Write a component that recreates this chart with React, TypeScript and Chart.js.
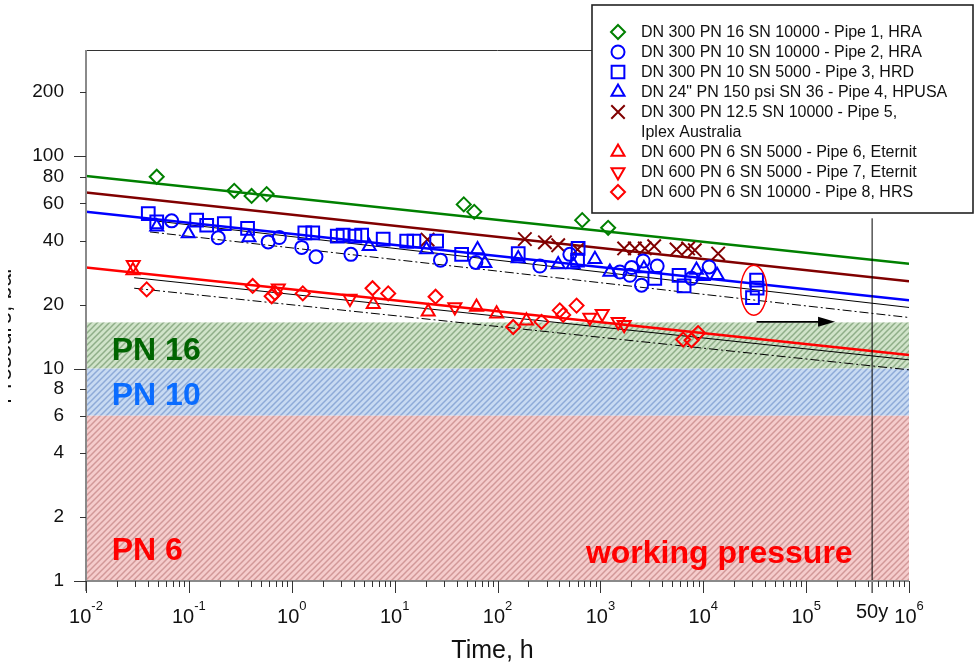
import React, { useEffect, useRef } from 'react';
import { Chart, registerables } from 'chart.js';

Chart.register(...registerables);

const FONT = '"Liberation Sans", Arial, Helvetica, sans-serif';

// ---------- measured data (time in h, pressure in bar) ----------
const pipe1Time = [0.0487, 0.276, 0.407, 0.57, 47, 59.4, 666, 1190];
const pipe1Pressure = [80, 68.7, 65, 66.3, 59.3, 54.7, 50, 46];

const pipe2Time = [0.068, 0.193, 0.59, 0.757, 1.25, 1.72, 3.76, 27.9, 61.6, 258, 505, 1549, 1937, 2010, 2512, 2604, 3565, 7690, 11400];
const pipe2Pressure = [49.6, 41.3, 39.5, 41.4, 37.2, 33.6, 34.5, 32.4, 31.6, 30.4, 34.5, 28.5, 27.5, 29.9, 24.7, 32.1, 30.4, 26.6, 30.1];

const pipe3Time = [0.0403, 0.0487, 0.119, 0.149, 0.221, 0.372, 1.34, 1.6, 2.77, 3.16, 4.11, 4.78, 7.74, 13.1, 15.4, 25.6, 44.8, 159, 608, 600, 3380, 5820, 6510, 33000, 33400, 30100];
const pipe3Pressure = [53.7, 49.1, 50.0, 47.3, 48.2, 45.7, 43.6, 43.6, 42.0, 42.5, 42.0, 42.5, 40.7, 39.8, 39.8, 39.8, 34.5, 34.8, 36.8, 32.4, 26.6, 27.5, 24.5, 26.1, 23.9, 21.6];

const pipe4Time = [0.0487, 0.0986, 0.384, 5.66, 20.4, 64, 75.3, 159, 389, 544, 885, 1237, 2650, 8590, 9980, 13650];
const pipe4Pressure = [46.5, 43.3, 41.4, 37.7, 36.4, 36.4, 31.3, 33.0, 30.9, 30.9, 32.7, 28.5, 29.6, 29.1, 27.2, 27.5];

const pipe5Time = [20.9, 184.5, 289, 389, 600, 1703, 2163, 2704, 3333, 5500, 7130, 8280, 13960];
const pipe5Pressure = [40.5, 40.7, 39.3, 38.1, 36.4, 36.8, 36.8, 36.8, 37.7, 36.4, 36.8, 36.1, 34.8];

const pipe6Time = [0.0286, 6.2, 21.2, 62.5, 98, 191];
const pipe6Pressure = [29.0, 20.1, 18.5, 19.5, 18.1, 16.8];

const pipe7Time = [0.0288, 0.74, 3.68, 38.5, 790, 1042, 1490, 1703];
const pipe7Pressure = [30.8, 23.9, 21.4, 19.5, 17.4, 18.1, 16.6, 16.1];

const pipe8Time = [0.0389, 0.417, 0.638, 0.687, 1.28, 6.1, 8.66, 25, 142, 268, 403, 435, 587, 6380, 7690, 8910];
const pipe8Pressure = [23.6, 24.5, 21.9, 22.7, 22.6, 23.9, 22.6, 21.8, 15.7, 16.6, 18.8, 17.9, 19.8, 13.7, 13.6, 14.7];

// regression lines (end points)
const fitTime = [0.01, 1e6];
const fitGreenPressure = [80.7, 31.2];
const fitDarkRedPressure = [67.5, 25.8];
const fitBluePressure = [54.7, 21.0];
const fitRedPressure = [29.9, 11.6];
const blueLowerTime = [0.05, 1e6];
const blueLowerPressure = [49.4, 19.4];
const blueLimitTime = [0.0419, 1e6];
const blueLimitPressure = [44.0, 17.4];
const redLowerTime = [0.0294, 1e6];
const redLowerPressure = [26.8, 11.0];
const redLimitTime = [0.0294, 1e6];
const redLimitPressure = [23.9, 9.87];

const legendLabels = [
  'DN 300 PN 16 SN 10000 - Pipe 1, HRA',
  'DN 300 PN 10 SN 10000 - Pipe 2, HRA',
  'DN 300 PN 10 SN 5000 - Pipe 3, HRD',
  'DN 24" PN 150 psi SN 36 - Pipe 4, HPUSA',
  'DN 300 PN 12.5 SN 10000 - Pipe 5,\nIplex Australia',
  'DN 600 PN 6 SN 5000 - Pipe 6, Eternit',
  'DN 600 PN 6 SN 5000 - Pipe 7, Eternit',
  'DN 600 PN 6 SN 10000 - Pipe 8, HRS',
];

// pressure zones
const zoneNames = ['PN 16', 'PN 10', 'PN 6'];
const zoneLow = [10, 6, 1];
const zoneHigh = [16.5, 10, 6];
const zoneTextColors = ['#006400', '#0a6cff', '#ff0000'];
const zoneBg = ['#d0e3c9', '#c8daf2', '#f5cccc'];
const zoneStripe = ['#8fae88', '#8eaad8', '#d29898'];
const zoneLabelPressure = [11.0, 6.73, 1.256];
const zoneLabelTime = 0.0178;
const workingText = 'working pressure';
const workingTime = 723;
const workingPressure = 1.215;

// axis ticks
const yTicks = [1, 2, 4, 6, 8, 10, 20, 40, 60, 80, 100, 200];
const xDecades = [-2, -1, 0, 1, 2, 3, 4, 5, 6];
const fiftyYearsH = 438000;
const fiftyYearsTop = 51;

// annotations
const ellipseTime = 31000;
const ellipsePressure = 23.4;
const arrowTime = [33000, 191000];
const arrowPressure = 16.6;

const pts = (t: number[], p: number[]) => t.map((v, i) => ({ x: v, y: p[i] }));

function drawMarker(ctx: CanvasRenderingContext2D, style: string, rot: number, x: number, y: number, r: number, color: string) {
  ctx.save();
  ctx.strokeStyle = color;
  ctx.lineWidth = 2;
  ctx.beginPath();
  if (style === 'circle') {
    ctx.arc(x, y, r, 0, Math.PI * 2);
  } else if (style === 'rect') {
    const s = r * Math.SQRT1_2;
    ctx.rect(x - s, y - s, 2 * s, 2 * s);
  } else if (style === 'rectRot') {
    ctx.moveTo(x, y - r); ctx.lineTo(x + r, y); ctx.lineTo(x, y + r); ctx.lineTo(x - r, y); ctx.closePath();
  } else if (style === 'triangle') {
    let a = (rot * Math.PI) / 180;
    ctx.moveTo(x + Math.sin(a) * r, y - Math.cos(a) * r);
    a += (2 * Math.PI) / 3;
    ctx.lineTo(x + Math.sin(a) * r, y - Math.cos(a) * r);
    a += (2 * Math.PI) / 3;
    ctx.lineTo(x + Math.sin(a) * r, y - Math.cos(a) * r);
    ctx.closePath();
  } else if (style === 'crossRot') {
    const d = r * Math.SQRT1_2;
    ctx.moveTo(x - d, y - d); ctx.lineTo(x + d, y + d);
    ctx.moveTo(x - d, y + d); ctx.lineTo(x + d, y - d);
  }
  ctx.stroke();
  ctx.restore();
}

export default function App() {
  const ref = useRef<HTMLCanvasElement>(null);

  useEffect(() => {
    const canvas = ref.current!;
    const ctx0 = canvas.getContext('2d')!;

    const hatch = (bg: string, st: string) => {
      const c = document.createElement('canvas');
      c.width = 6; c.height = 6;
      const g = c.getContext('2d')!;
      g.fillStyle = bg; g.fillRect(0, 0, 6, 6);
      g.strokeStyle = st; g.lineWidth = 1.5;
      g.beginPath();
      g.moveTo(0, 6); g.lineTo(6, 0);
      g.moveTo(-3, 3); g.lineTo(3, -3);
      g.moveTo(3, 9); g.lineTo(9, 3);
      g.stroke();
      return ctx0.createPattern(c, 'repeat')!;
    };
    const patterns = zoneBg.map((bg, i) => hatch(bg, zoneStripe[i]));

    const scatter = (i: number, t: number[], p: number[], style: string, color: string, radius: number, rotation = 0) => ({
      type: 'scatter' as const,
      label: legendLabels[i],
      legendText: legendLabels[i],
      data: pts(t, p),
      pointStyle: style,
      pointRadius: radius,
      pointHoverRadius: radius,
      pointRotation: rotation,
      borderColor: color,
      backgroundColor: 'rgba(0,0,0,0)',
      pointBorderWidth: 2,
      showLine: false,
    });
    const line = (t: number[], p: number[], color: string, width: number, dash: number[] = []) => ({
      type: 'line' as const,
      label: '',
      data: pts(t, p),
      borderColor: color,
      borderWidth: width,
      borderDash: dash,
      pointRadius: 0,
      pointHoverRadius: 0,
      showLine: true,
      fill: false,
    });

    const GREEN = '#008000', BLUE = '#0000ff', DRED = '#800000', RED = '#ff0000';

    const datasets: any[] = [
      scatter(0, pipe1Time, pipe1Pressure, 'rectRot', GREEN, 7),
      scatter(1, pipe2Time, pipe2Pressure, 'circle', BLUE, 6.5),
      scatter(2, pipe3Time, pipe3Pressure, 'rect', BLUE, 9),
      scatter(3, pipe4Time, pipe4Pressure, 'triangle', BLUE, 7.5),
      scatter(4, pipe5Time, pipe5Pressure, 'crossRot', DRED, 9.5),
      scatter(5, pipe6Time, pipe6Pressure, 'triangle', RED, 7.5),
      scatter(6, pipe7Time, pipe7Pressure, 'triangle', RED, 7.5, 180),
      scatter(7, pipe8Time, pipe8Pressure, 'rectRot', RED, 7),
      line(fitTime, fitGreenPressure, GREEN, 2.5),
      line(fitTime, fitDarkRedPressure, DRED, 2.5),
      line(fitTime, fitBluePressure, BLUE, 2.5),
      line(fitTime, fitRedPressure, RED, 2.5),
      line(blueLowerTime, blueLowerPressure, '#000', 1),
      line(blueLimitTime, blueLimitPressure, '#000', 1, [9, 3, 2, 3]),
      line(redLowerTime, redLowerPressure, '#000', 1),
      line(redLimitTime, redLimitPressure, '#000', 1, [9, 3, 2, 3]),
    ];

    const overlay = {
      id: 'overlay',
      beforeDatasetsDraw(chart: any) {
        const { ctx, chartArea: a, scales } = chart;
        const x = scales.x, y = scales.y;
        ctx.save();
        zoneLow.forEach((lo, i) => {
          const top = y.getPixelForValue(zoneHigh[i]);
          const bot = y.getPixelForValue(lo);
          ctx.fillStyle = patterns[i];
          ctx.fillRect(a.left, top, a.right - a.left, bot - top);
        });
        ctx.font = `bold 32px ${FONT}`;
        ctx.textBaseline = 'alphabetic';
        ctx.textAlign = 'left';
        zoneNames.forEach((n, i) => {
          ctx.fillStyle = zoneTextColors[i];
          ctx.fillText(n, x.getPixelForValue(zoneLabelTime), y.getPixelForValue(zoneLabelPressure[i]));
        });
        ctx.fillStyle = '#ff0000';
        ctx.fillText(workingText, x.getPixelForValue(workingTime), y.getPixelForValue(workingPressure));
        ctx.restore();
      },
      afterDraw(chart: any) {
        const { ctx, chartArea: a, scales } = chart;
        const x = scales.x, y = scales.y;
        ctx.save();

        // 50 years line
        const x50 = x.getPixelForValue(fiftyYearsH);
        ctx.strokeStyle = '#000';
        ctx.lineWidth = 1;
        ctx.beginPath();
        ctx.moveTo(x50, y.getPixelForValue(fiftyYearsTop));
        ctx.lineTo(x50, a.bottom + 12);
        ctx.stroke();

        // ellipse
        ctx.strokeStyle = '#ff0000';
        ctx.lineWidth = 1.5;
        ctx.beginPath();
        ctx.ellipse(x.getPixelForValue(ellipseTime), y.getPixelForValue(ellipsePressure), 13, 25, 0, 0, Math.PI * 2);
        ctx.stroke();

        // arrow
        const ax0 = x.getPixelForValue(arrowTime[0]);
        const ax1 = x.getPixelForValue(arrowTime[1]);
        const ay = y.getPixelForValue(arrowPressure);
        ctx.strokeStyle = '#000';
        ctx.fillStyle = '#000';
        ctx.lineWidth = 1.8;
        ctx.beginPath();
        ctx.moveTo(ax0, ay); ctx.lineTo(ax1 - 14, ay);
        ctx.stroke();
        ctx.beginPath();
        ctx.moveTo(ax1, ay); ctx.lineTo(ax1 - 17, ay - 5); ctx.lineTo(ax1 - 17, ay + 5); ctx.closePath();
        ctx.fill();

        // frame top
        ctx.strokeStyle = '#333';
        ctx.lineWidth = 1;
        ctx.beginPath();
        ctx.moveTo(a.left, a.top + 0.5); ctx.lineTo(a.right, a.top + 0.5);
        ctx.stroke();

        // axes lines
        ctx.strokeStyle = '#8a8a8a';
        ctx.lineWidth = 2;
        ctx.beginPath();
        ctx.moveTo(a.left, a.top); ctx.lineTo(a.left, a.bottom + 10);
        ctx.moveTo(a.left, a.bottom); ctx.lineTo(a.right, a.bottom);
        ctx.stroke();

        // y ticks
        ctx.strokeStyle = '#333';
        ctx.lineWidth = 1;
        ctx.beginPath();
        yTicks.forEach((v) => {
          const py = Math.round(y.getPixelForValue(v)) + 0.5;
          const major = Math.abs(Math.log10(v) - Math.round(Math.log10(v))) < 1e-9;
          ctx.moveTo(a.left - (major ? 12 : 6), py); ctx.lineTo(a.left, py);
        });
        // x ticks
        xDecades.forEach((e, k) => {
          const base = Math.pow(10, e);
          const px = Math.round(x.getPixelForValue(base)) + 0.5;
          ctx.moveTo(px, a.bottom); ctx.lineTo(px, a.bottom + 12);
          if (k < xDecades.length - 1) {
            for (let m = 2; m <= 9; m++) {
              const pm = Math.round(x.getPixelForValue(base * m)) + 0.5;
              ctx.moveTo(pm, a.bottom); ctx.lineTo(pm, a.bottom + 6);
            }
          }
        });
        ctx.stroke();

        // x tick labels
        ctx.fillStyle = '#111';
        ctx.textBaseline = 'alphabetic';
        ctx.textAlign = 'left';
        xDecades.forEach((e) => {
          const px = x.getPixelForValue(Math.pow(10, e));
          ctx.font = `20px ${FONT}`;
          const wb = ctx.measureText('10').width;
          ctx.font = `13px ${FONT}`;
          const sup = String(e);
          const ws = ctx.measureText(sup).width;
          const start = px - (wb + ws) / 2;
          ctx.font = `20px ${FONT}`;
          ctx.fillText('10', start, a.bottom + 42);
          ctx.font = `13px ${FONT}`;
          ctx.fillText(sup, start + wb, a.bottom + 29);
        });
        ctx.font = `20px ${FONT}`;
        ctx.textAlign = 'center';
        ctx.fillText('50y', x50, a.bottom + 37);

        // x title
        ctx.font = `25px ${FONT}`;
        ctx.fillText('Time, h', (a.left + a.right) / 2 - 5, a.bottom + 77);

        // y title (mostly cut off at the left edge)
        ctx.save();
        ctx.beginPath();
        ctx.rect(8, 0, 100, 669);
        ctx.clip();
        ctx.translate(11, 335);
        ctx.rotate(-Math.PI / 2);
        ctx.font = `23px ${FONT}`;
        ctx.textAlign = 'center';
        ctx.fillText('Pressure, bar', 0, 0);
        ctx.restore();

        // legend
        const lx = 592, ly = 5, lw = 381, lh = 208;
        ctx.fillStyle = '#fff';
        ctx.fillRect(lx, ly, lw, lh);
        ctx.strokeStyle = '#222';
        ctx.lineWidth = 1.6;
        ctx.strokeRect(lx, ly, lw, lh);
        ctx.font = `16px ${FONT}`;
        ctx.textAlign = 'left';
        ctx.textBaseline = 'middle';
        ctx.fillStyle = '#111';
        let row = 0;
        chart.data.datasets.forEach((ds: any) => {
          if (!ds.legendText) return;
          const cy = 32 + row * 20;
          drawMarker(ctx, ds.pointStyle, ds.pointRotation || 0, 618, cy, ds.pointRadius, ds.borderColor);
          const lines = String(ds.legendText).split('\n');
          lines.forEach((t: string, j: number) => {
            ctx.fillStyle = '#111';
            ctx.fillText(t, 641, cy + j * 20 + 1);
          });
          row += lines.length;
        });
        ctx.restore();
      },
    };

    const chart = new Chart(canvas, {
      type: 'scatter',
      data: { datasets },
      options: {
        animation: false,
        responsive: false,
        devicePixelRatio: 1,
        layout: { padding: { left: 0, top: 50, right: 66, bottom: 0 } },
        plugins: { legend: { display: false }, tooltip: { enabled: false } },
        scales: {
          x: {
            type: 'logarithmic',
            min: 0.01,
            max: 1e6,
            grid: { display: false },
            border: { display: false },
            ticks: { display: false },
            afterFit: (s: any) => { s.height = 88; },
          },
          y: {
            type: 'logarithmic',
            min: 1,
            max: 316.2,
            grid: { display: false, drawTicks: false },
            border: { display: false },
            afterBuildTicks: (s: any) => { s.ticks = yTicks.map((v) => ({ value: v })); },
            ticks: {
              padding: 22,
              color: '#111',
              font: { family: FONT, size: 19 },
              callback: (v: any) => String(v),
            },
            afterFit: (s: any) => { s.width = 86; },
          },
        },
      } as any,
      plugins: [overlay],
    });
    return () => chart.destroy();
  }, []);

  return (
    <div style={{ position: 'absolute', left: 0, top: 0, width: 975, height: 669, overflow: 'hidden', background: '#fff' }}>
      <canvas ref={ref} width={975} height={669} style={{ display: 'block' }} />
    </div>
  );
}
